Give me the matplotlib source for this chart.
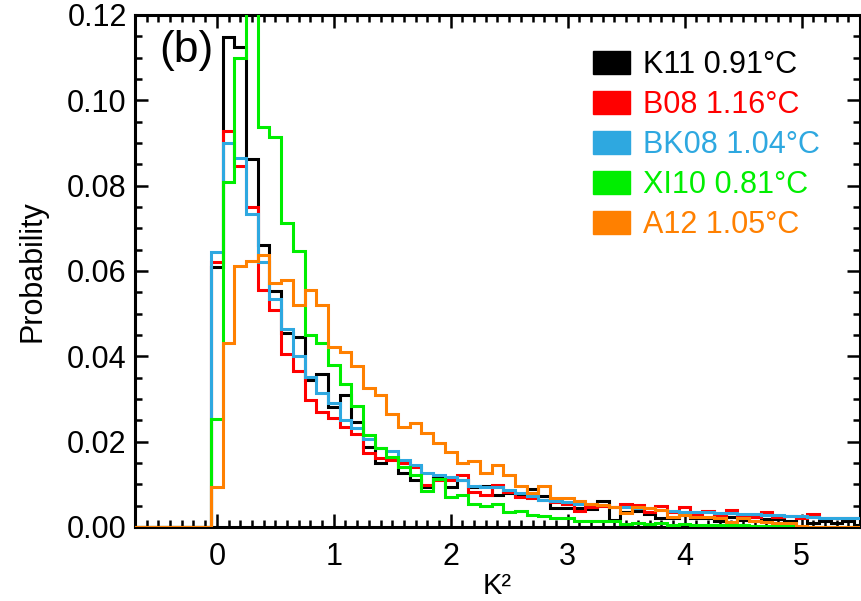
import numpy as np
import matplotlib
matplotlib.use("Agg")
import matplotlib.pyplot as plt
from matplotlib.patches import Patch
from matplotlib.ticker import MultipleLocator, FormatStrFormatter

plt.rcParams['font.family'] = ['Liberation Sans', 'DejaVu Sans']

# ---- data (probability per bin; bins of width 0.1 centred at 0.0, 0.1, ... 5.5) ----
bin_width = 0.1
first_center = 0.0
x_min, x_max = -0.7, 5.5

labels = ["K11 0.91°C", "B08 1.16°C", "BK08 1.04°C", "XI10 0.81°C", "A12 1.05°C"]
colors = ["#000000", "#FF0000", "#2EA8E0", "#00EE00", "#FF8000"]

k11 = [0.0610, 0.1149, 0.1126, 0.0862, 0.0660, 0.0554, 0.0455, 0.0446, 0.0345, 0.0359,
       0.0282, 0.0309, 0.0245, 0.0188, 0.0149, 0.0161, 0.0126, 0.0110, 0.0094, 0.0114,
       0.0093, 0.0110, 0.0094, 0.0095, 0.0075, 0.0079, 0.0072, 0.0088, 0.0073, 0.0044,
       0.0044, 0.0044, 0.0042, 0.0060, 0.0017, 0.0035, 0.0037, 0.0030, 0.0020, 0.0022,
       0.0028, 0.0020, 0.0020, 0.0013, 0.0024, 0.0016, 0.0023, 0.0019, 0.0019, 0.0015,
       0.0022, 0.0009, 0.0014, 0.0009, 0.0014, 0.0005]
b08 = [0.0622, 0.0927, 0.0847, 0.0751, 0.0555, 0.0509, 0.0405, 0.0366, 0.0297, 0.0270,
       0.0255, 0.0235, 0.0217, 0.0174, 0.0161, 0.0157, 0.0149, 0.0141, 0.0098, 0.0110,
       0.0110, 0.0121, 0.0083, 0.0075, 0.0098, 0.0083, 0.0071, 0.0067, 0.0063, 0.0059,
       0.0055, 0.0038, 0.0048, 0.0050, 0.0046, 0.0055, 0.0052, 0.0036, 0.0050, 0.0035,
       0.0046, 0.0030, 0.0037, 0.0027, 0.0039, 0.0028, 0.0024, 0.0035, 0.0024, 0.0026,
       0.0020, 0.0031, 0.0020, 0.0020, 0.0021, 0.0020]
bk08 = [0.0645, 0.0901, 0.0866, 0.0733, 0.0622, 0.0534, 0.0463, 0.0400, 0.0352, 0.0315,
        0.0290, 0.0251, 0.0231, 0.0206, 0.0186, 0.0179, 0.0157, 0.0145, 0.0126, 0.0122,
        0.0118, 0.0110, 0.0095, 0.0093, 0.0093, 0.0087, 0.0079, 0.0072, 0.0063, 0.0061,
        0.0058, 0.0055, 0.0053, 0.0052, 0.0048, 0.0046, 0.0044, 0.0044, 0.0040, 0.0038,
        0.0036, 0.0035, 0.0035, 0.0033, 0.0032, 0.0031, 0.0030, 0.0029, 0.0027, 0.0026,
        0.0025, 0.0024, 0.0022, 0.0021, 0.0021, 0.0020]
xi10 = [0.0253, 0.0809, 0.1100, 0.1300, 0.0938, 0.0913, 0.0712, 0.0647, 0.0450, 0.0431,
        0.0380, 0.0335, 0.0284, 0.0216, 0.0184, 0.0165, 0.0141, 0.0122, 0.0085, 0.0112,
        0.0071, 0.0075, 0.0055, 0.0049, 0.0055, 0.0036, 0.0038, 0.0028, 0.0025, 0.0022,
        0.0021, 0.0013, 0.0015, 0.0013, 0.0013, 0.0007, 0.0009, 0.0007, 0.0009, 0.0005,
        0.0006, 0.0005, 0.0005, 0.0004, 0.0004, 0.0004, 0.0003, 0.0003, 0.0002, 0.0002,
        0.0000, 0.0000, 0.0000, 0.0000, 0.0000, 0.0000]
a12 = [0.0094, 0.0431, 0.0612, 0.0623, 0.0637, 0.0571, 0.0579, 0.0520, 0.0555, 0.0520,
       0.0423, 0.0409, 0.0377, 0.0325, 0.0309, 0.0264, 0.0234, 0.0243, 0.0220, 0.0198,
       0.0176, 0.0149, 0.0155, 0.0127, 0.0145, 0.0122, 0.0096, 0.0080, 0.0096, 0.0067,
       0.0067, 0.0062, 0.0055, 0.0052, 0.0048, 0.0032, 0.0048, 0.0044, 0.0040, 0.0024,
       0.0028, 0.0024, 0.0024, 0.0022, 0.0011, 0.0022, 0.0013, 0.0012, 0.0009, 0.0009,
       0.0002, 0.0000, 0.0000, 0.0000, 0.0000, 0.0000]
series = [k11, b08, bk08, xi10, a12]

# ---- figure ----
W, H = 862, 601
fig = plt.figure(figsize=(W / 100, H / 100), dpi=100)
ax = fig.add_axes([135 / W, 74 / H, 725 / W, 512 / H])

for vals, col in zip(series, colors):
    vals = np.asarray(vals)
    n = len(vals)
    edges = first_center - bin_width / 2 + bin_width * np.arange(n + 1)
    edges = np.concatenate([[x_min - 0.1], edges])
    v = np.concatenate([[0.0], vals])
    ax.stairs(v, edges, baseline=None, color=col, linewidth=2.2, zorder=3)

ax.set_xlim(x_min, x_max)
ax.set_ylim(0, 0.12)

ax.xaxis.set_major_locator(MultipleLocator(1))
ax.xaxis.set_minor_locator(MultipleLocator(0.1))
ax.yaxis.set_major_locator(MultipleLocator(0.02))
ax.yaxis.set_minor_locator(MultipleLocator(0.005))
ax.yaxis.set_major_formatter(FormatStrFormatter('%.2f'))

ax.tick_params(which='both', direction='in', top=True, right=True, width=1.8, colors='black')
ax.tick_params(which='major', length=9.5)
ax.tick_params(which='minor', length=5)
ax.tick_params(axis='both', labelsize=22)
ax.tick_params(axis='x', pad=11)
ax.tick_params(axis='y', pad=6)
for s in ax.spines.values():
    s.set_linewidth(2.2)

ax.set_xlabel("K²", fontsize=21, labelpad=0)
ax.set_ylabel("Probability", fontsize=22, labelpad=14)

ax.text(0.034, 0.97, "(b)", transform=ax.transAxes, fontsize=32, va='top', ha='left')

handles = [Patch(facecolor=c, edgecolor=c) for c in colors]
leg = ax.legend(handles, labels, loc='upper left',
                bbox_to_anchor=((593 - 135) / 725, (527 - 50) / 512),
                frameon=False, fontsize=22, handlelength=1.2, handleheight=0.75,
                handletextpad=0.45, labelspacing=0.33, borderpad=0, borderaxespad=0)
for t, c in zip(leg.get_texts(), colors):
    t.set_color(c)

fig.savefig("out.png", dpi=100)
